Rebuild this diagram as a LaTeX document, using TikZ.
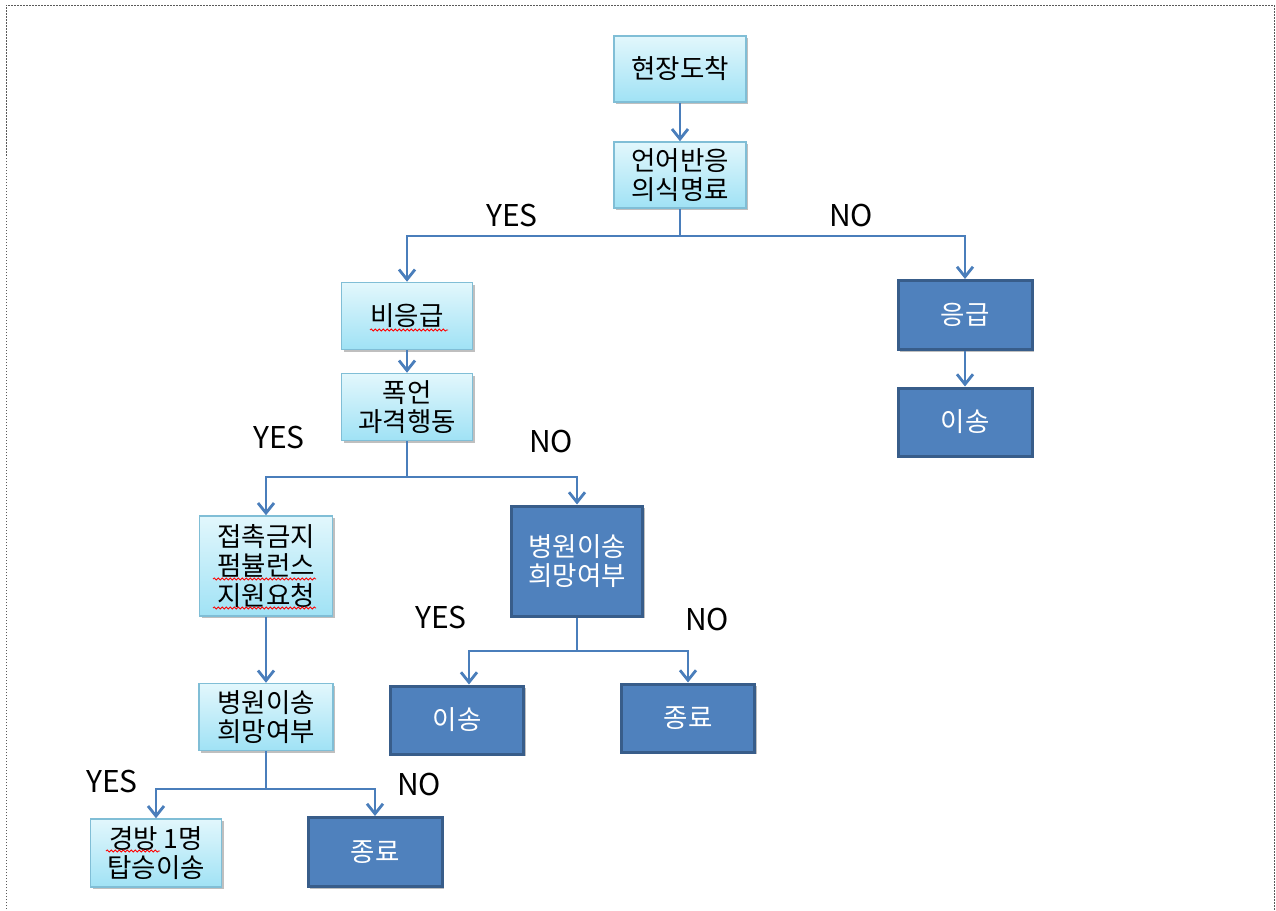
\documentclass[tikz,border=0pt]{standalone}
\usepackage{fontspec}
\setmainfont{Noto Sans CJK KR}
\usetikzlibrary{arrows.meta,shadows,decorations.pathmorphing}
\definecolor{lineblue}{RGB}{74,126,187}
\definecolor{darkfill}{RGB}{79,129,189}
\definecolor{darkedge}{RGB}{56,93,138}
\definecolor{lightedge}{RGB}{128,190,214}
\definecolor{lighttop}{RGB}{226,247,252}
\definecolor{lightbot}{RGB}{160,226,245}
\definecolor{framegray}{RGB}{90,90,90}
\begin{document}
\begin{tikzpicture}[x=1pt,y=-1pt,
  box/.style={rectangle, inner sep=0pt, align=center, font=\fontsize{26.5}{29.5}\selectfont},
  lightbox/.style={box, draw=lightedge, line width=1.5pt, top color=lighttop, bottom color=lightbot, text=black,
     drop shadow={shadow xshift=2pt, shadow yshift=-2pt, opacity=0.25, fill=black}},
  darkbox/.style={box, draw=darkedge, line width=3pt, fill=darkfill, text=white,
     drop shadow={shadow xshift=2pt, shadow yshift=-2pt, opacity=0.25, fill=black}},
  conn/.style={draw=lineblue, line width=2.8pt},
  arr/.style={conn, -{Straight Barb[length=10pt,width=16pt,line width=2.8pt]}},
  lbl/.style={font=\fontsize{30}{34}\selectfont, text=black, inner sep=0pt},
  wave/.style={draw=red, line width=0.8pt, decorate, decoration={snake, segment length=4pt, amplitude=1.1pt}}
]
\useasboundingbox (0,0) rectangle (1276,910);
\draw[framegray, line width=1pt, dash pattern=on 1.5pt off 1.5pt] (6,912) -- (6,5) -- (1274,5) -- (1274,912);

% nodes
\node[lightbox, minimum width=132, minimum height=66] (n1) at (680,69) {현장도착};
\node[lightbox, minimum width=132, minimum height=66] (n2) at (680,175) {언어반응\\의식명료};
\node[lightbox, minimum width=131, minimum height=67] (n3) at (407,316) {비응급};
\node[darkbox, minimum width=134, minimum height=69] (n4) at (965,315) {응급};
\node[darkbox, minimum width=134, minimum height=68] (n5) at (965,422) {이송};
\node[lightbox, minimum width=131, minimum height=67] (n6) at (407,407) {폭언\\과격행동};
\node[lightbox, minimum width=133, minimum height=100] (n7) at (266,566) {접촉금지\\펌뷸런스\\지원요청};
\node[darkbox, minimum width=131, minimum height=110] (n8) at (577,561) {병원이송\\희망여부};
\node[darkbox, minimum width=133, minimum height=68] (n9) at (457,720) {이송};
\node[darkbox, minimum width=133, minimum height=68] (n10) at (688,718) {종료};
\node[lightbox, minimum width=134, minimum height=67] (n11) at (266,717) {병원이송\\희망여부};
\node[lightbox, minimum width=131, minimum height=68] (n12) at (156,853) {경방 1명\\탑승이송};
\node[darkbox, minimum width=134, minimum height=69] (n13) at (375,852) {종료};

% spell-check wavy underlines
\draw[wave] ([shift={(-37,14)}]n3.center) -- ([shift={(41,14)}]n3.center);
\draw[wave] ([shift={(-53,13)}]n7.center) -- ([shift={(50,13)}]n7.center);
\draw[wave] ([shift={(-53,42)}]n7.center) -- ([shift={(50,42)}]n7.center);
\draw[wave] ([shift={(-50,-2)}]n12.center) -- ([shift={(4,-2)}]n12.center);

% labels
\node[lbl] (y1) at (512,216) {YES};
\node[lbl] (no1) at (851,216) {NO};
\node[lbl] (y2) at (279,437) {YES};
\node[lbl] (no2) at (551,441) {NO};
\node[lbl] (y3) at (441,617) {YES};
\node[lbl] (no3) at (707,619) {NO};
\node[lbl] (y4) at (112,781) {YES};
\node[lbl] (no4) at (419,784) {NO};

% junctions
\coordinate (j1) at (680,236);
\coordinate (j2) at (407,477);
\coordinate (j3) at (577,651);
\coordinate (j4) at (266,789);

% connectors
\draw[arr] (n1.south) -- (n2.north);
\draw[conn] (n2.south) -- (j1);
\draw[arr] (j1) -| (n3.north);
\draw[arr] (j1) -| (n4.north);
\draw[arr] (n4.south) -- (n5.north);
\draw[arr] (n3.south) -- (n6.north);
\draw[conn] (n6.south) -- (j2);
\draw[arr] (j2) -| (n7.north);
\draw[arr] (j2) -| (n8.north);
\draw[conn] (n8.south) -- (j3);
\draw[arr] (j3) -| ([xshift=12pt]n9.north);
\draw[arr] (j3) -| (n10.north);
\draw[arr] (n7.south) -- (n11.north);
\draw[conn] (n11.south) -- (j4);
\draw[arr] (j4) -| (n12.north);
\draw[arr] (j4) -| (n13.north);
\end{tikzpicture}
\end{document}
